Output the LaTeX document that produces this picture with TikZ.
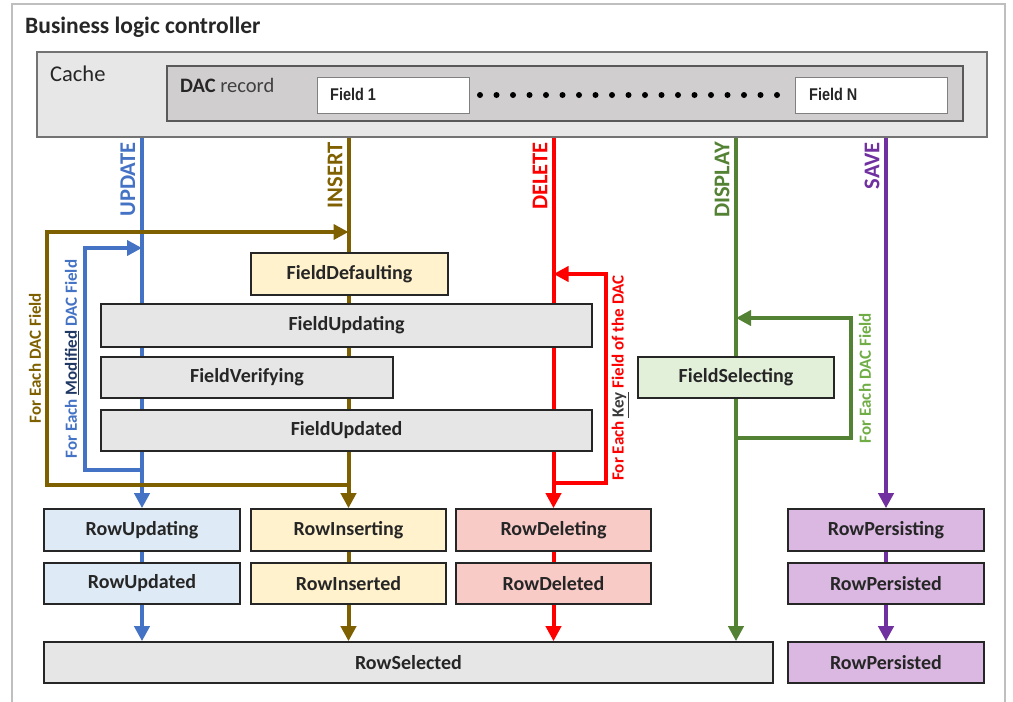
\documentclass[tikz,border=0pt]{standalone}
\usepackage{fontspec}
\setmainfont{Carlito}
\newfontfamily\fieldfont[FakeStretch=0.85]{Liberation Sans}
\usetikzlibrary{arrows.meta}
\pgfdeclarelayer{lines}
\pgfsetlayers{lines,main}
\definecolor{cBlue}{HTML}{4472C4}
\definecolor{cBrown}{HTML}{7F6000}
\definecolor{cRed}{HTML}{FF0000}
\definecolor{cGreen}{HTML}{548235}
\definecolor{cGreenL}{HTML}{70AD47}
\definecolor{cPurple}{HTML}{7030A0}
\definecolor{fGray}{HTML}{E6E6E6}
\definecolor{fBlue}{HTML}{DEEBF7}
\definecolor{fYellow}{HTML}{FFF2CC}
\definecolor{fRed}{HTML}{F8CBC7}
\definecolor{fGreen}{HTML}{E2F0D9}
\definecolor{fPurple}{HTML}{DAB8E2}
\definecolor{frameGray}{HTML}{BFBFBF}
\definecolor{cacheFill}{HTML}{E7E7E7}
\definecolor{dacFill}{HTML}{D0CECE}
\definecolor{dark}{HTML}{262626}
\definecolor{recGray}{HTML}{404040}
\definecolor{modCol}{HTML}{203864}
\definecolor{keyCol}{HTML}{3B3B3B}
\begin{document}
\begin{tikzpicture}[x=1pt,y=-1pt,
  evbox/.style={draw=dark, line width=1.6pt, inner sep=0pt, text=dark,
    font=\fontsize{20}{24}\selectfont\bfseries},
  lane/.style={line width=4pt, line join=miter},
  tip/.style={-{Triangle[length=15pt,width=15pt]}},
  lanelabel/.style={rotate=90, anchor=east, inner sep=0pt, font=\fontsize{22.5}{26}\selectfont\bfseries},
  looplabel/.style={rotate=90, inner sep=0pt, font=\fontsize{17}{20}\selectfont\bfseries},
  fieldbox/.style={draw=gray, line width=1pt, fill=white, inner sep=0pt, minimum width=152pt, minimum height=36pt},
  fieldtext/.style={anchor=base west, inner sep=0pt, font=\fieldfont\fontsize{17}{20}\selectfont\bfseries, text=dark},
]
\useasboundingbox (0,0) rectangle (1013,702);
\draw[frameGray, line width=2pt] (12,4) rectangle (1005,740);
\node[anchor=base west, inner sep=0pt, font=\fontsize{23.5}{26}\selectfont\bfseries, text=dark] (title) at (25,33) {Business logic controller};

% cache
\node[draw=gray!90!black, line width=1.2pt, fill=cacheFill, inner sep=0pt, minimum width=950pt, minimum height=85pt] (cache) at (512,94.5) {};
\node[anchor=base west, inner sep=0pt, font=\fontsize{22.5}{26}\selectfont, text=dark] (cachet) at (50,81) {Cache};
\node[draw=gray!70!black, line width=1.2pt, fill=dacFill, inner sep=0pt, minimum width=796pt, minimum height=55pt] (dac) at (565,93.5) {};
\node[anchor=base west, inner sep=0pt, font=\fontsize{20.5}{24}\selectfont, text=dark] (dact) at (180,92) {\textbf{DAC} \textcolor{recGray}{record}};
\node[fieldbox] (field1) at (393,95) {};
\node[fieldtext] (field1t) at (330,100.5) {Field 1};
\node[fieldbox] (fieldN) at (871,95) {};
\node[fieldtext] (fieldNt) at (809,100.5) {Field N};
\foreach \i in {0,...,18} { \fill[black] (480+16.5*\i,95) circle (3pt); }

% field level events
\node[evbox, fill=fYellow, minimum width=197pt, minimum height=42pt] (fDef) at (349.5,274) {FieldDefaulting};
\node[evbox, fill=fGray, minimum width=491pt, minimum height=43pt] (fUpd) at (346.5,325.5) {FieldUpdating};
\node[evbox, fill=fGray, minimum width=292pt, minimum height=41pt] (fVer) at (247,377.5) {FieldVerifying};
\node[evbox, fill=fGray, minimum width=491pt, minimum height=41pt] (fUpdd) at (346.5,430.5) {FieldUpdated};
\node[evbox, fill=fGreen, minimum width=196pt, minimum height=41pt] (fSel) at (736,377.5) {FieldSelecting};

% row level events
\node[evbox, fill=fBlue, minimum width=196pt, minimum height=42pt] (rUpd) at (142,530) {RowUpdating};
\node[evbox, fill=fBlue, minimum width=196pt, minimum height=41pt] (rUpdd) at (142,583.5) {RowUpdated};
\node[evbox, fill=fYellow, minimum width=195pt, minimum height=42pt] (rIns) at (348.5,530) {RowInserting};
\node[evbox, fill=fYellow, minimum width=195pt, minimum height=41pt] (rInsd) at (348.5,583.5) {RowInserted};
\node[evbox, fill=fRed, minimum width=195pt, minimum height=42pt] (rDel) at (553.5,530) {RowDeleting};
\node[evbox, fill=fRed, minimum width=195pt, minimum height=41pt] (rDeld) at (553.5,583.5) {RowDeleted};
\node[evbox, fill=fPurple, minimum width=196pt, minimum height=42pt] (rPer) at (886,530) {RowPersisting};
\node[evbox, fill=fPurple, minimum width=196pt, minimum height=41pt] (rPerd) at (886,583.5) {RowPersisted};
\node[evbox, fill=fGray, minimum width=729pt, minimum height=41pt] (rSel) at (408.5,662.5) {RowSelected};
\node[evbox, fill=fPurple, minimum width=196pt, minimum height=41pt] (rPerd2) at (886,662.5) {RowPersisted};

% lane labels
\node[lanelabel, text=cBlue] (lUpd) at (128,142) {UPDATE};
\node[lanelabel, text=cBrown] (lIns) at (335,142) {INSERT};
\node[lanelabel, text=cRed] (lDel) at (540,142) {DELETE};
\node[lanelabel, text=cGreen] (lDis) at (722,142) {DISPLAY};
\node[lanelabel, text=cPurple] (lSav) at (872,142) {SAVE};

% loop labels
\node[looplabel, text=cBrown] (lpIns) at (35,358) {For Each DAC Field};
\node[looplabel, text=cBlue] (lpUpd) at (72,359) {For Each \textcolor{modCol}{\underline{Modified}} DAC Field};
\node[looplabel, text=cRed] (lpDel) at (620,378) {For Each \textcolor{keyCol}{\underline{Key}} Field of the DAC};
\node[looplabel, text=cGreenL] (lpDis) at (865,378) {For Each DAC Field};

% loop corners
\coordinate (bB) at (142,470); \coordinate (bL) at (85,470); \coordinate (bT) at (85,248);
\coordinate (nB) at (348.5,485); \coordinate (nL) at (47,485); \coordinate (nT) at (47,232);
\coordinate (dB) at (553.5,483); \coordinate (dR) at (606,483); \coordinate (dT) at (606,274);
\coordinate (gB) at (736,438); \coordinate (gR) at (851,438); \coordinate (gT) at (851,318);

\begin{pgfonlayer}{lines}
% update
\draw[lane, cBlue, tip] (cache.south -| rUpd.north) -- (rUpd.north);
\draw[lane, cBlue] (rUpd.south) -- (rUpdd.north);
\draw[lane, cBlue, tip] (rUpdd.south) -- (rSel.north -| rUpdd.south);
\draw[lane, cBlue, tip] (bB) -- (bL) -- (bT) -- (bT -| rUpd.north);
% insert
\draw[lane, cBrown, tip] (cache.south -| rIns.north) -- (rIns.north);
\draw[lane, cBrown] (rIns.south) -- (rInsd.north);
\draw[lane, cBrown, tip] (rInsd.south) -- (rSel.north -| rInsd.south);
\draw[lane, cBrown, tip] (nB) -- (nL) -- (nT) -- (nT -| rIns.north);
% delete
\draw[lane, cRed, tip] (cache.south -| rDel.north) -- (rDel.north);
\draw[lane, cRed] (rDel.south) -- (rDeld.north);
\draw[lane, cRed, tip] (rDeld.south) -- (rSel.north -| rDeld.south);
\draw[lane, cRed, tip] (dB) -- (dR) -- (dT) -- (dT -| rDel.north);
% display
\draw[lane, cGreen, tip] (cache.south -| fSel.north) -- (rSel.north -| fSel.north);
\draw[lane, cGreen, tip] (gB) -- (gR) -- (gT) -- (gT -| fSel.north);
% save
\draw[lane, cPurple, tip] (cache.south -| rPer.north) -- (rPer.north);
\draw[lane, cPurple] (rPer.south) -- (rPerd.north);
\draw[lane, cPurple, tip] (rPerd.south) -- (rPerd2.north);
\end{pgfonlayer}
\end{tikzpicture}
\end{document}
